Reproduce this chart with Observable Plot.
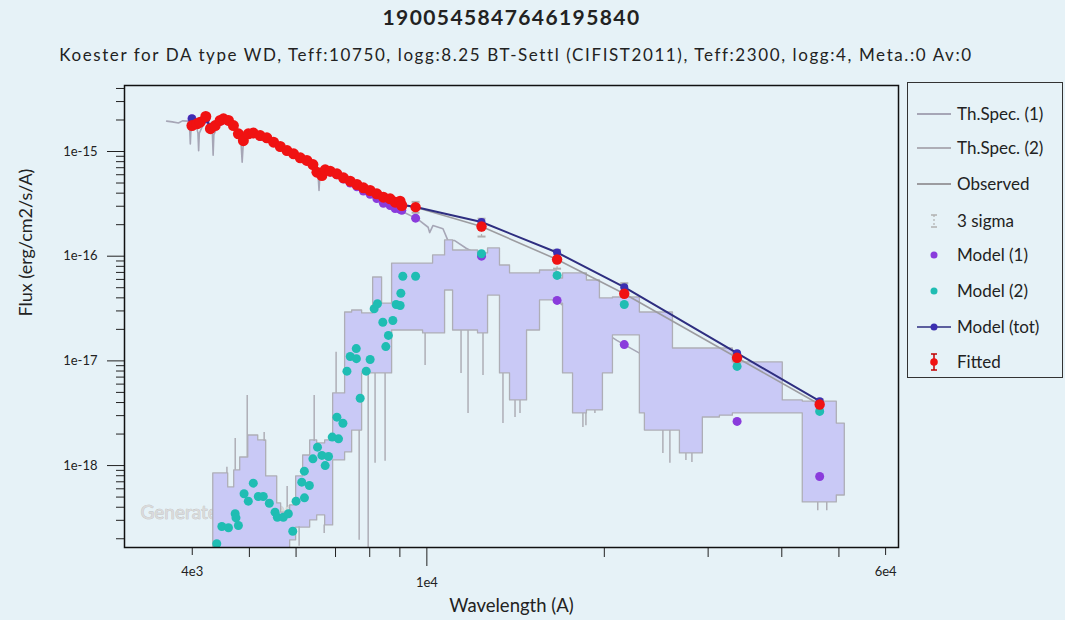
<!DOCTYPE html>
<html><head><meta charset="utf-8">
<script src="https://cdn.jsdelivr.net/npm/d3@7"></script>
<script src="https://cdn.jsdelivr.net/npm/@observablehq/plot@0.6"></script>
<style>
body{margin:0;background:#e6f2f7;font-family:Lato,sans-serif;color:#222}
#wrap{position:relative;width:1065px;height:620px;overflow:hidden;background:#e6f2f7}
#title{position:absolute;top:4px;left:0;width:1023px;text-align:center;font-weight:bold;font-size:21px;letter-spacing:1.4px}
#subtitle{position:absolute;top:44px;left:0;width:1032px;text-align:center;font-size:17px;letter-spacing:1.6px}
#chart{position:absolute;top:70px;left:0}
#legend{position:absolute;left:907px;top:82px;width:156px;height:296px;border:1px solid #333;box-sizing:border-box}
.row{position:absolute;left:0;height:24px;width:150px}
.row svg{position:absolute;left:5px;top:0}
.row span{position:absolute;left:49px;top:1px;font-size:17px;white-space:nowrap}
</style></head>
<body><div id="wrap">
<div id="title">1900545847646195840</div>
<div id="subtitle">Koester for DA type WD, Teff:10750, logg:8.25 BT-Settl (CIFIST2011), Teff:2300, logg:4, Meta.:0 Av:0</div>
<div id="chart"></div>
<div id="legend"></div>
</div>
<script>
// ---- Gaia XP spectrum (fitted / observed) ----
const xpWl = [3995,4074,4126,4217,4294,4376,4460,4519,4608,4698,4790,4884,4979,5077,5215,5353,5496,5641,5792,5943,6100,6259,6408,6509,6637,6723,6856,7038,7221,7413,7610,7806,8013,8225,8440,8664,8834,9008,9068];
const xpFlux = [1.77e-15,1.84e-15,1.905e-15,2.16e-15,1.65e-15,1.77e-15,1.98e-15,2.05e-15,1.98e-15,1.77e-15,1.476e-15,1.27e-15,1.476e-15,1.50e-15,1.42e-15,1.35e-15,1.227e-15,1.116e-15,1.02e-15,9.51e-16,8.71e-16,8.21e-16,7.51e-16,6.34e-16,5.90e-16,6.68e-16,6.48e-16,6.12e-16,5.61e-16,5.20e-16,4.84e-16,4.50e-16,4.24e-16,3.94e-16,3.66e-16,3.53e-16,3.28e-16,3.35e-16,3.05e-16];
const xpModel1 = [2.06e-15,1.85e-15,1.91e-15,2.04e-15,1.69e-15,1.77e-15,1.94e-15,2.01e-15,1.95e-15,1.77e-15,1.49e-15,1.29e-15,1.46e-15,1.48e-15,1.40e-15,1.33e-15,1.22e-15,1.11e-15,1.01e-15,9.4e-16,8.6e-16,8.1e-16,7.4e-16,6.3e-16,5.9e-16,6.5e-16,6.35e-16,6.0e-16,5.45e-16,5.0e-16,4.6e-16,4.2e-16,3.9e-16,3.55e-16,3.2e-16,3.05e-16,2.85e-16,2.8e-16,2.75e-16];
const xpModelTot = [2.07e-15,1.86e-15,1.92e-15,2.05e-15,1.70e-15,1.78e-15,1.95e-15,2.02e-15,1.96e-15,1.78e-15,1.50e-15,1.30e-15,1.47e-15,1.49e-15,1.41e-15,1.34e-15,1.23e-15,1.12e-15,1.02e-15,9.5e-16,8.7e-16,8.2e-16,7.5e-16,6.4e-16,6.0e-16,6.6e-16,6.45e-16,6.1e-16,5.6e-16,5.2e-16,4.85e-16,4.5e-16,4.25e-16,3.95e-16,3.65e-16,3.5e-16,3.3e-16,3.3e-16,3.1e-16];
// BT-Settl model fluxes at the XP wavelengths
const xpM2Wl = [4402,4490,4608,4730,4745,4790,4897,4979,5077,5177,5279,5405,5527,5577,5709,5822,5923,6000,6135,6197,6200,6320,6408,6524,6637,6723,6811,6910,7038,7082,7205,7319,7413,7590,7595,7708,7891,8013,8140,8245,8420,8519,8606,8756,8870,9034,9104,9010];
const xpM2Flux = [1.79e-19,2.62e-19,2.55e-19,3.47e-19,3.17e-19,2.68e-19,5.38e-19,4.57e-19,6.79e-19,5.07e-19,5.07e-19,4.37e-19,3.59e-19,3.21e-19,3.21e-19,3.47e-19,2.36e-19,4.57e-19,6.94e-19,8.85e-19,4.92e-19,6.46e-19,1.16e-18,1.50e-18,1.25e-18,1.00e-18,1.22e-18,1.87e-18,2.90e-18,1.80e-18,2.54e-18,7.98e-18,1.10e-17,1.31e-17,1.05e-17,4.40e-18,7.98e-18,1.03e-17,3.15e-17,3.51e-17,2.34e-17,1.37e-17,1.75e-17,2.43e-17,3.46e-17,4.43e-17,6.44e-17,3.38e-17];

// ---- photometric points ----
const photWl = [9570,12380,16630,21620,33590,46380];
const photFlux = [2.94e-16,1.92e-16,9.3e-17,4.38e-17,1.07e-17,3.83e-18];
const photErrLo = [2.85e-16,1.80e-16,8.7e-17,4.1e-17,1.04e-17,3.72e-18];
const photErrHi = [3.03e-16,2.05e-16,1.0e-16,4.7e-17,1.1e-17,3.95e-18];
const sigma3Lo = [2.6e-16,1.54e-16,7.6e-17,3.54e-17,9.6e-18,3.4e-18];
const sigma3Hi = [3.3e-16,2.28e-16,1.15e-16,5.52e-17,1.2e-17,4.3e-18];
const photModel1 = [2.31e-16,1.0e-16,3.78e-17,1.43e-17,2.64e-18,7.87e-19];
const photModel2 = [6.44e-17,1.054e-16,6.55e-17,3.46e-17,8.85e-18,3.29e-18];
const photModelTot = [2.95e-16,2.12e-16,1.085e-16,5.06e-17,1.185e-17,4.12e-18];

// ---- Th.Spec (1): Koester WD spectrum ----
const wdWl = [3620,3700,3790,3850,3935,3962,3970,3978,4050,4090,4101,4112,4200,4300,4328,4340,4352,4450,4600,4750,4840,4861,4882,5000,5300,5600,6000,6300,6500,6545,6563,6580,6650,6800,7200,7600,8000,8500,9000,9570,9720,10050,10110,10240,10650,10860,11150,11660,12380,14000,15740,16630,17100,21000,21620,22980,26000,30000];
const wdFlux = [1.95e-15,1.92e-15,1.87e-15,1.96e-15,1.95e-15,1.55e-15,1.18e-15,1.55e-15,1.92e-15,1.5e-15,1.02e-15,1.5e-15,1.95e-15,1.85e-15,1.45e-15,9.2e-16,1.45e-15,1.9e-15,1.92e-15,1.6e-15,1.2e-15,7.9e-16,1.2e-15,1.45e-15,1.33e-15,1.12e-15,9.2e-16,8.0e-16,6.6e-16,5.5e-16,4.24e-16,5.5e-16,6.3e-16,6.4e-16,5.5e-16,4.75e-16,4.1e-16,3.3e-16,2.75e-16,2.31e-16,2.19e-16,1.89e-16,1.68e-16,1.96e-16,1.83e-16,1.41e-16,1.41e-16,1.19e-16,1.0e-16,6.0e-17,4.53e-17,3.78e-17,3.3e-17,1.57e-17,1.43e-17,1.18e-17,7.2e-18,4.1e-18];

// ---- Th.Spec (2): BT-Settl spectrum envelope (upper / lower) ----
const btWl = [4342,4393,4603,4712,4824,4978,5176,5339,5574,5660,5863,6002,6168,6340,6516,6722,6935,7267,7469,7766,8108,8396,8731,9007,9854,10247,10738,11079,12212,12700,13306,13838,14790,15558,16627,17022,17701,18685,19659,19891,20685,22980,23434,26149,26869,29387,31410,33041,40156,43416,49588,51160];
const btHi = [8.41e-19,8.41e-19,6.18e-19,8.98e-19,1.195e-18,1.938e-18,1.737e-18,7.87e-19,4.35e-19,3.56e-19,4.16e-19,7.87e-19,1.248e-18,1.737e-18,1.626e-18,1.737e-18,4.89e-18,2.90e-17,3.03e-17,2.84e-17,6.26e-17,3.53e-17,8.51e-17,8.51e-17,8.51e-17,1.016e-16,1.413e-16,1.133e-16,1.062e-16,1.186e-16,8.15e-17,6.84e-17,6.84e-17,7.30e-17,6.12e-17,6.84e-17,6.84e-17,5.86e-17,3.95e-17,3.95e-17,4.03e-17,2.90e-17,2.90e-17,1.313e-17,1.313e-17,1.313e-17,1.313e-17,9.66e-18,4.19e-18,4.09e-18,2.52e-18,2.52e-18];
const btLo = [1.6e-19,1.6e-19,1.6e-19,1.6e-19,1.6e-19,1.6e-19,1.6e-19,1.6e-19,1.6e-19,1.6e-19,1.93e-19,2.56e-19,2.56e-19,2.99e-19,3.34e-19,2.68e-19,1.119e-18,1.334e-18,2.16e-18,7.59e-18,7.59e-18,7.59e-18,1.95e-17,1.95e-17,1.83e-17,1.83e-17,4.70e-17,1.95e-17,1.83e-17,4.21e-17,7.59e-18,4.19e-18,1.95e-17,3.78e-17,3.53e-17,7.59e-18,3.15e-18,3.36e-18,3.36e-18,7.59e-18,1.75e-17,3.15e-18,2.16e-18,2.16e-18,1.305e-18,2.88e-18,3.0e-18,3.15e-18,3.15e-18,4.45e-19,5.18e-19,5.18e-19];
// absorption / emission spikes of the BT-Settl spectrum
const spikeWl = [4580,4731,4958,5297,5795,6440,7016,6072,6697,7677,7952,8169,8495,9932,11429,11745,12452,13462,14111,14388,18396,18613,19278,25140,25838,27506,28159,46032,47680];
const spikeFrom = [8.4e-19,9.0e-19,1.2e-18,1.7e-18,4.0e-19,1.7e-18,4.9e-18,2.6e-19,2.7e-19,2.16e-18,7.59e-18,7.59e-18,7.59e-18,1.83e-17,1.95e-17,1.95e-17,1.83e-17,7.59e-18,4.19e-18,4.19e-18,3.15e-18,3.15e-18,3.36e-18,2.16e-18,2.16e-18,1.305e-18,1.305e-18,4.45e-19,4.45e-19];
const spikeTo = [9.66e-19,1.815e-18,4.67e-18,2.07e-18,6.31e-19,4.67e-18,1.21e-17,1.7e-19,2.25e-19,1.93e-19,1.65e-19,1.05e-18,1.1e-18,9.04e-18,7.59e-18,3.15e-18,7.26e-18,2.52e-18,2.88e-18,3.15e-18,2.31e-18,2.4e-18,3.15e-18,1.305e-18,1.05e-18,1.12e-18,1.07e-18,3.7e-19,3.7e-19];

// ---- axes ----
const yTickValues = [1e-15,1e-16,1e-17,1e-18];
const yTickLabels = ["1e-15","1e-16","1e-17","1e-18"];
const xTickValues = [4000,10000,60000];
const xTickLabels = ["4e3","1e4","6e4"];
const xMinorTicks = [5000,6000,7000,8000,9000,20000,30000,40000,50000];

const legendLabels = ["Th.Spec. (1)","Th.Spec. (2)","Observed","3 sigma","Model (1)","Model (2)","Model (tot)","Fitted"];

// colours
const C = {wd:"#a6a6b6", bt:"#aeaeb6", btFill:"#c9c9f6", obs:"#9c9ca0", sig:"#b0b0b0",
  m1:"#8a3cdc", m2:"#1fbdb3", tot:"#2e2e80", totDot:"#3b2fb0", fit:"#f01212", fitErr:"#c00000"};

const yDomain = [1.65e-19,4.27e-15];

// tables built from the arrays
const xp = xpWl.map((w,i)=>({w, f:xpFlux[i], m1:xpModel1[i], tot:xpModelTot[i]}));
const phot = photWl.map((w,i)=>({w, f:photFlux[i], lo:photErrLo[i], hi:photErrHi[i], s3lo:sigma3Lo[i], s3hi:sigma3Hi[i], m1:photModel1[i], m2:photModel2[i], tot:photModelTot[i]}));
const m2xp = xpM2Wl.map((w,i)=>({w, f:xpM2Flux[i]}));
const wd = wdWl.map((w,i)=>({w, f:wdFlux[i]}));
const bt = btWl.map((w,i)=>({w, hi:btHi[i], lo:btLo[i]}));
const spikes = spikeWl.map((w,i)=>({w, a:spikeFrom[i], b:spikeTo[i]}));
const observed = xp.concat(phot).map(d=>({w:d.w, f:d.f}));
const totLine = xp.concat(phot).map(d=>({w:d.w, f:d.tot}));
const yMinor = [];
for (const dec of [1e-19,1e-18,1e-17,1e-16,1e-15]) for (let k=2;k<=9;k++) {
  const v = k*dec; if (v >= yDomain[0] && v <= yDomain[1]) yMinor.push(v);
}

const cap = {draw(ctx,size){const r=Math.sqrt(size/Math.PI); ctx.moveTo(-r,0); ctx.lineTo(r,0);}};

const chart = Plot.plot({
  width:1065, height:550, marginLeft:124, marginRight:167, marginTop:15, marginBottom:73,
  style:{background:"transparent", fontFamily:"Lato, sans-serif", fontSize:"13px", color:"#222"},
  x:{type:"log", domain:[3070,63100]},
  y:{type:"log", domain:yDomain},
  marks:[
    Plot.text(["Generated by VOSA"], {frameAnchor:"bottom-left", dx:16, dy:-29, textAnchor:"start", fontSize:19, fill:"#dadada", stroke:"#b9b9b9", strokeWidth:0.6}),
    Plot.line(wd, {x:"w", y:"f", stroke:C.wd, strokeWidth:1.6, clip:true}),
    Plot.areaY(bt, {x:"w", y1:"lo", y2:"hi", curve:"step-after", fill:C.btFill, stroke:C.bt, strokeWidth:1.3, clip:true}),
    Plot.ruleX(spikes, {x:"w", y1:"a", y2:"b", stroke:C.bt, strokeWidth:1.5, clip:true}),
    Plot.line(observed, {x:"w", y:"f", stroke:C.obs, strokeWidth:1.6}),
    Plot.ruleX(phot, {x:"w", y1:"s3lo", y2:"s3hi", stroke:C.sig, strokeWidth:1.2, strokeDasharray:"2,2"}),
    Plot.dot(phot, {x:"w", y:"s3lo", symbol:cap, r:4, stroke:C.sig, strokeWidth:2, fill:"none"}),
    Plot.dot(phot, {x:"w", y:"s3hi", symbol:cap, r:4, stroke:C.sig, strokeWidth:2, fill:"none"}),
    Plot.dot(xp, {x:"w", y:"m1", r:4.5, fill:C.m1}),
    Plot.dot(phot, {x:"w", y:"m1", r:4.5, fill:C.m1}),
    Plot.dot(m2xp, {x:"w", y:"f", r:4.5, fill:C.m2, clip:true}),
    Plot.dot(phot, {x:"w", y:"m2", r:4.5, fill:C.m2}),
    Plot.line(totLine, {x:"w", y:"f", stroke:C.tot, strokeWidth:2}),
    Plot.dot(totLine, {x:"w", y:"f", r:4, fill:C.totDot}),
    Plot.ruleX(phot, {x:"w", y1:"lo", y2:"hi", stroke:C.fitErr, strokeWidth:1.5}),
    Plot.dot(xp, {x:"w", y:"f", r:5.5, fill:C.fit}),
    Plot.dot(phot, {x:"w", y:"f", r:5.2, fill:C.fit}),
    Plot.axisY(yTickValues, {tickSize:17, tickPadding:10, tickFormat:d=>yTickLabels[yTickValues.indexOf(d)], label:null, fontSize:13}),
    Plot.axisY(yMinor, {tickSize:8, tickFormat:()=>"", label:null}),
    Plot.axisX([xTickValues[0], xTickValues[2]], {tickSize:8, tickPadding:11, tickFormat:d=>xTickLabels[xTickValues.indexOf(d)], label:null, fontSize:13}),
    Plot.axisX([xTickValues[1]], {tickSize:19, tickPadding:11, tickFormat:d=>xTickLabels[xTickValues.indexOf(d)], label:null, fontSize:13}),
    Plot.axisX(xMinorTicks, {tickSize:10, tickFormat:()=>"", label:null}),
    Plot.text(["Wavelength (A)"], {frameAnchor:"bottom", dy:64, fontSize:18.5, fill:"#222"}),
    Plot.text(["Flux (erg/cm2/s/A)"], {frameAnchor:"left", dx:-98, rotate:-90, fontSize:18, fill:"#222"}),
    Plot.frame({stroke:"#111", strokeWidth:1.5})
  ]
});
document.getElementById("chart").appendChild(chart);

// legend
const centers = [31,65,101,138,172,208,244,279];
const samples = [
  `<line x1="4" y1="12" x2="38" y2="12" stroke="${C.wd}" stroke-width="2"/>`,
  `<line x1="4" y1="12" x2="38" y2="12" stroke="${C.bt}" stroke-width="2"/>`,
  `<line x1="4" y1="12" x2="38" y2="12" stroke="${C.obs}" stroke-width="2"/>`,
  `<line x1="21" y1="6" x2="21" y2="18" stroke="${C.sig}" stroke-width="1.2" stroke-dasharray="2,2"/><line x1="18" y1="6" x2="24" y2="6" stroke="${C.sig}" stroke-width="1.5"/><line x1="18" y1="18" x2="24" y2="18" stroke="${C.sig}" stroke-width="1.5"/>`,
  `<circle cx="21" cy="12" r="3.5" fill="${C.m1}"/>`,
  `<circle cx="21" cy="12" r="3.5" fill="${C.m2}"/>`,
  `<line x1="4" y1="12" x2="38" y2="12" stroke="${C.tot}" stroke-width="1.5"/><circle cx="21" cy="12" r="3.5" fill="${C.totDot}"/>`,
  `<line x1="21" y1="4" x2="21" y2="20" stroke="${C.fitErr}" stroke-width="1.5"/><line x1="18" y1="4" x2="24" y2="4" stroke="${C.fitErr}" stroke-width="1.5"/><line x1="18" y1="20" x2="24" y2="20" stroke="${C.fitErr}" stroke-width="1.5"/><circle cx="21" cy="12" r="3.8" fill="${C.fit}"/>`
];
const leg = document.getElementById("legend");
legendLabels.forEach((lab,i)=>{
  const row = document.createElement("div");
  row.className="row"; row.style.top=(centers[i]-12)+"px";
  row.innerHTML = `<svg width="42" height="24">${samples[i]}</svg><span>${lab}</span>`;
  leg.appendChild(row);
});
</script>
</body></html>
